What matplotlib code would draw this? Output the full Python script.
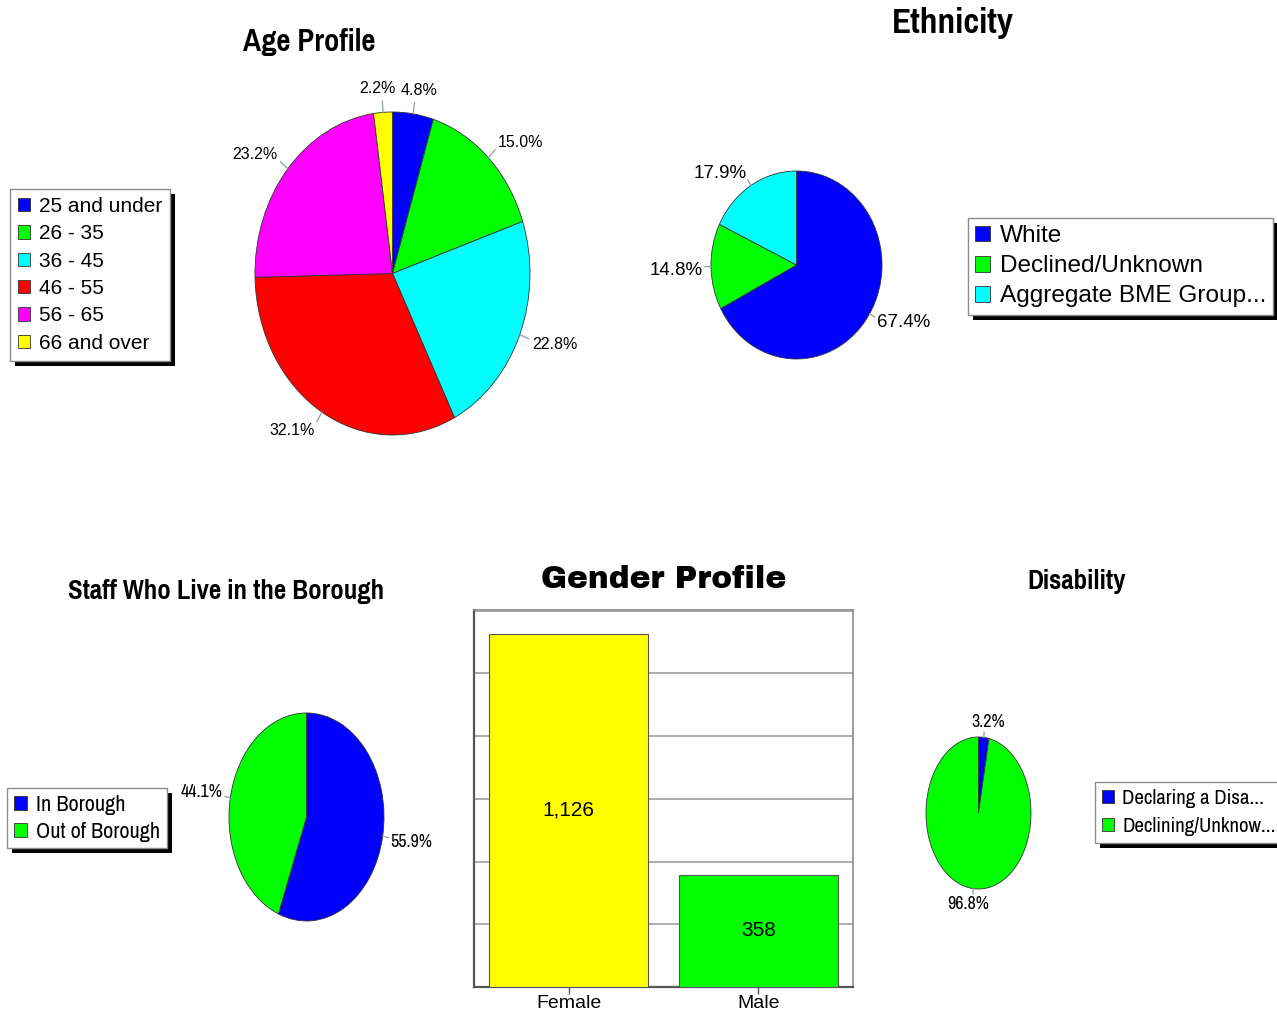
import numpy as np
import matplotlib
matplotlib.use("Agg")
import matplotlib.pyplot as plt
from matplotlib.patches import Rectangle
from matplotlib import font_manager as fm

# ---------------- data ----------------
age_labels = ["25 and under", "26 - 35", "36 - 45", "46 - 55", "56 - 65", "66 and over"]
age_values = [4.8, 15.0, 22.8, 32.1, 23.2, 2.2]
age_colors = ["#0000ff", "#00ff00", "#00ffff", "#ff0000", "#ff00ff", "#ffff00"]

eth_labels = ["White", "Declined/Unknown", "Aggregate BME Group..."]
eth_values = [67.4, 14.8, 17.9]
eth_colors = ["#0000ff", "#00ff00", "#00ffff"]

bor_labels = ["In Borough", "Out of Borough"]
bor_values = [55.9, 44.1]
bor_colors = ["#0000ff", "#00ff00"]

dis_labels = ["Declaring a Disa...", "Declining/Unknow..."]
dis_values = [3.2, 96.8]
dis_colors = ["#0000ff", "#00ff00"]

gender_labels = ["Female", "Male"]
gender_values = [1126, 358]
gender_colors = ["#ffff00", "#00ff00"]

# ---------------- figure ----------------
W, H = 1277, 1011
fig = plt.figure(figsize=(W / 100, H / 100), dpi=100)
fig.patch.set_facecolor("white")


def pick_bold(cands):
    for n in cands:
        if any(f.name == n and f.weight in (700, "bold") for f in fm.fontManager.ttflist):
            return n
    return "DejaVu Sans"


REG = ["Liberation Sans", "DejaVu Sans"]
NARROW = ["Archivo Narrow", "Liberation Sans", "DejaVu Sans"]
NB = [pick_bold(["Archivo Narrow", "Pragati Narrow", "PT Sans Narrow", "Roboto Condensed",
                 "Fira Sans Condensed", "IBM Plex Sans Condensed", "Encode Sans Condensed",
                 "Barlow Condensed", "Liberation Sans"]), "DejaVu Sans"]
BLACK = ["Archivo Black", "DejaVu Sans"]


def fbox(x0, y0, x1, y1):
    return [x0 / W, 1 - y1 / H, (x1 - x0) / W, (y1 - y0) / H]


legends = []


def draw_pie(box, values, colors, fsize, family, lead=1.07, lr=1.1):
    ax = fig.add_axes(fbox(*box))
    wedges, _ = ax.pie(values, colors=colors, startangle=90, counterclock=False,
                       radius=1, wedgeprops=dict(edgecolor="#333333", linewidth=0.6))
    ax.set_aspect("auto")
    ax.set_xlim(-1, 1)
    ax.set_ylim(-1, 1)
    ax.axis("off")
    for w, v in zip(wedges, values):
        th = np.deg2rad((w.theta1 + w.theta2) / 2)
        c, s = np.cos(th), np.sin(th)
        ax.plot([c, c * lead], [s, s * lead], color="#8aa0a0", lw=0.9,
                clip_on=False, zorder=1)
        if abs(c) < 0.2:
            ha = "center"
            va = "bottom" if s > 0 else "top"
            dx, dy = 3 * np.sign(c), 0
        else:
            ha = "left" if c > 0 else "right"
            va = "center"
            dx, dy = 0, 3 * np.sign(s)
        ax.annotate(f"{v:.1f}%", xy=(c * lr, s * lr), xytext=(dx, dy),
                    textcoords="offset points", ha=ha, va=va,
                    fontsize=fsize, family=family, annotation_clip=False)
    return ax, wedges


def add_legend(wedges, labels, x0, y0, fsize, family, spacing, pad):
    leg = fig.legend(wedges, labels, loc="upper left",
                     bbox_to_anchor=(x0 / W, 1 - y0 / H),
                     bbox_transform=fig.transFigure, borderaxespad=0,
                     frameon=True, fancybox=False, edgecolor="#8c8c8c",
                     framealpha=1, facecolor="white",
                     prop=dict(family=family, size=fsize),
                     handlelength=0.6, handleheight=0.6, handletextpad=0.4,
                     labelspacing=spacing, borderpad=pad)
    leg.get_frame().set_linewidth(1.0)
    legends.append(leg)
    return leg


def title(text, x, y, size, family, weight="bold"):
    fig.text(x / W, 1 - y / H, text, ha="center", va="center",
             fontsize=size, family=family, fontweight=weight)


# Age profile
ax, w = draw_pie((255, 112, 530, 435), age_values, age_colors, 11.5, REG)
add_legend(w, age_labels, 10, 189, 15, REG, 0.4, 0.38)
title("Age Profile", 309, 42, 24, NB)

# Ethnicity
ax, w = draw_pie((711, 171, 882, 359), eth_values, eth_colors, 13.5, REG)
add_legend(w, eth_labels, 968, 218, 17.6, REG, 0.33, 0.3)
title("Ethnicity", 953, 23, 27.5, NB)

# Borough
ax, w = draw_pie((229, 713, 384, 921), bor_values, bor_colors, 13, NARROW)
add_legend(w, bor_labels, 7, 788, 16, NARROW, 0.32, 0.3)
title("Staff Who Live in the Borough", 226, 591, 21, NB)

# Disability
ax, w = draw_pie((926, 737, 1031, 889), dis_values, dis_colors, 13, NARROW)
add_legend(w, dis_labels, 1095, 782, 15, NARROW, 0.45, 0.32)
title("Disability", 1077, 582, 21, NB)

# Gender bar chart
axb = fig.add_axes(fbox(474, 610, 853, 987))
x = np.arange(len(gender_values))
axb.bar(x, gender_values, width=0.84, color=gender_colors,
        edgecolor="#555555", linewidth=0.8, zorder=3)
for xi, v in zip(x, gender_values):
    axb.text(xi, v / 2, f"{v:,}", ha="center", va="center", fontsize=15,
             family=REG, zorder=4)
axb.set_xlim(-0.5, 1.5)
axb.set_ylim(0, 1202)
axb.set_yticks(np.arange(0, 1201, 200))
axb.set_yticklabels([])
axb.tick_params(axis="y", length=0)
axb.set_xticks(x)
axb.set_xticklabels(gender_labels, fontsize=14, family=REG)
axb.tick_params(axis="x", length=5, width=1, color="#555555", pad=1)
axb.yaxis.grid(True, color="#a0a0a0", linewidth=1.2)
axb.set_axisbelow(True)
for side in ["top", "right"]:
    axb.spines[side].set_color("#8c8c8c")
    axb.spines[side].set_linewidth(1.2)
for side in ["left", "bottom"]:
    axb.spines[side].set_color("#555555")
    axb.spines[side].set_linewidth(1.6)
title("Gender Profile", 664, 580, 22.5, BLACK, weight="normal")

# legend drop shadows
fig.canvas.draw()
r = fig.canvas.get_renderer()
inv = fig.transFigure.inverted()
for leg in legends:
    bb = leg.get_frame().get_window_extent(r)
    (fx0, fy0), (fx1, fy1) = inv.transform([(bb.x0 + 5, bb.y0 - 5), (bb.x1 + 5, bb.y1 - 5)])
    fig.add_artist(Rectangle((fx0, fy0), fx1 - fx0, fy1 - fy0, transform=fig.transFigure,
                             facecolor="black", edgecolor="none", zorder=4.5))

fig.savefig("out.png", dpi=100, facecolor="white")
